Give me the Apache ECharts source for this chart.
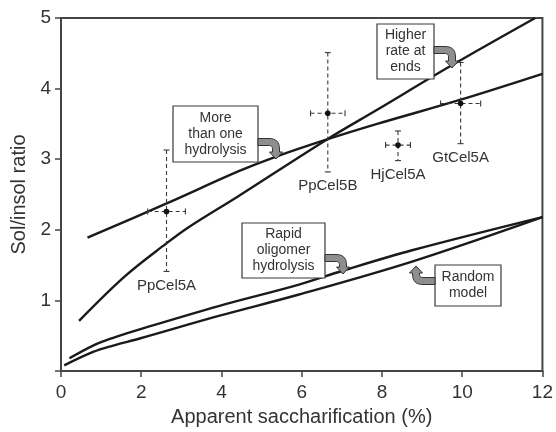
<!DOCTYPE html>
<html>
<head>
<meta charset="utf-8">
<script src="https://cdn.jsdelivr.net/npm/echarts@6/dist/echarts.min.js"></script>
<style>
html,body{margin:0;padding:0;background:#fff;}
#chart{width:556px;height:432px;}
</style>
</head>
<body>
<div id="chart"></div>
<script>
// ---- Data ----
const xTicks = [0, 2, 4, 6, 8, 10, 12];
const yTicks = [0, 1, 2, 3, 4, 5];

// "More than one hydrolysis" model curve
const moreX = [0.66, 2.62, 4.43, 5.33, 6.63, 7.88, 9.94, 12];
const moreY = [1.89, 2.37, 2.83, 3.03, 3.28, 3.50, 3.84, 4.21];
// "Higher rate at ends" model curve
const endsX = [0.45, 1.59, 2.61, 3.19, 4.43, 6.63, 7.88, 9.74, 11.82];
const endsY = [0.71, 1.34, 1.80, 2.04, 2.48, 3.28, 3.70, 4.33, 5.00];
// "Rapid oligomer hydrolysis" model curve
const rapidX = [0.21, 0.80, 1.30, 1.96, 3.93, 5.91, 7.02, 8.75, 12];
const rapidY = [0.18, 0.36, 0.47, 0.59, 0.92, 1.22, 1.42, 1.71, 2.18];
// "Random model" curve
const randomX = [0.08, 0.80, 1.30, 1.96, 3.93, 5.91, 8.75, 12];
const randomY = [0.08, 0.27, 0.36, 0.46, 0.78, 1.08, 1.55, 2.18];

// Enzyme measurements with error bars
const pointNames = ['PpCel5A', 'PpCel5B', 'HjCel5A', 'GtCel5A'];
const pointX = [2.63, 6.65, 8.40, 9.96];
const pointY = [2.26, 3.65, 3.20, 3.79];
const pointXErr = [0.47, 0.43, 0.31, 0.50];
const pointYErrUp = [0.87, 0.86, 0.20, 0.58];
const pointYErrDown = [0.85, 0.83, 0.22, 0.57];

// ---- Chart ----
const FONT = "'Liberation Sans', Arial, Helvetica, sans-serif";
const zip = (xs, ys) => xs.map((x, i) => [x, ys[i]]);
const pointData = pointX.map((x, i) => [x, pointY[i], pointXErr[i], pointYErrUp[i], pointYErrDown[i], pointNames[i]]);

function curve(name, xs, ys) {
  return {
    type: 'line', name: name, data: zip(xs, ys), showSymbol: false,
    smooth: 0.35,
    lineStyle: { color: '#1a1a1a', width: 2.4 }, z: 3, silent: true, clip: false
  };
}

function quad(p0, p1, p2, n) {
  const out = [];
  for (let i = 1; i <= n; i++) {
    const t = i / n, u = 1 - t;
    out.push([u * u * p0[0] + 2 * u * t * p1[0] + t * t * p2[0],
              u * u * p0[1] + 2 * u * t * p1[1] + t * t * p2[1]]);
  }
  return out;
}
function hookPoints(L, D) {
  const w = 3.5, r = 7, hw = 6.5, hl = 7;
  let pts = [[0, -w], [L - r, -w]];
  pts = pts.concat(quad([L - r, -w], [L + w, -w], [L + w, r], 8));
  pts.push([L + w, D - hl], [L + hw, D - hl], [L, D], [L - hw, D - hl], [L - w, D - hl], [L - w, r]);
  pts = pts.concat(quad([L - w, r], [L - w, w], [L - r, w], 8));
  pts.push([0, w]);
  return pts;
}
function arrow(x, y, L, D, flip) {
  const s = flip ? -1 : 1;
  const pts = hookPoints(L, D).map(p => [x + s * p[0], y + s * p[1]]);
  return {
    type: 'polygon', z: 101,
    shape: { points: pts },
    style: { fill: '#8e8e8e', stroke: '#333', lineWidth: 1 }
  };
}
function box(x, y, w, h, text) {
  return [
    { type: 'rect', z: 100, shape: { x: x, y: y, width: w, height: h },
      style: { fill: '#fff', stroke: '#3a3a3a', lineWidth: 1.2 } },
    { type: 'text', z: 102, x: x + w / 2, y: y + h / 2,
      style: { text: text, fontSize: 14, fontFamily: FONT, fill: '#333', lineHeight: 16,
               textAlign: 'center', textVerticalAlign: 'middle', align: 'center', verticalAlign: 'middle' } }
  ];
}

const chart = echarts.init(document.getElementById('chart'), null, { renderer: 'canvas' });
const option = {
  animation: false,
  backgroundColor: '#fff',
  grid: { left: 61, right: 8, top: 18, bottom: 57, show: true, borderColor: '#444', borderWidth: 2, backgroundColor: 'transparent' },
  xAxis: {
    type: 'value', min: xTicks[0], max: xTicks[xTicks.length - 1], interval: 2,
    name: 'Apparent saccharification (%)', nameLocation: 'middle', nameGap: 36,
    nameTextStyle: { fontSize: 20, fontFamily: FONT, color: '#333' },
    axisLine: { show: true, lineStyle: { color: '#444', width: 2 } },
    axisTick: { show: true, inside: false, length: 6, lineStyle: { color: '#444', width: 1.5 } },
    axisLabel: { fontSize: 19, fontFamily: FONT, color: '#333', margin: 12,
      formatter: v => xTicks.indexOf(v) >= 0 ? String(v) : '' },
    splitLine: { show: false }
  },
  yAxis: {
    type: 'value', min: yTicks[0], max: yTicks[yTicks.length - 1], interval: 1,
    name: 'Sol/insol ratio', nameLocation: 'middle', nameGap: 30,
    nameTextStyle: { fontSize: 20, fontFamily: FONT, color: '#333' },
    axisLine: { show: true, lineStyle: { color: '#444', width: 2 } },
    axisTick: { show: true, inside: false, length: 6, lineStyle: { color: '#444', width: 1.5 } },
    axisLabel: { fontSize: 19, fontFamily: FONT, color: '#333', margin: 10,
      formatter: v => (v === 0 ? '' : String(v)) },
    splitLine: { show: false }
  },
  series: [
    curve('More than one hydrolysis', moreX, moreY),
    curve('Higher rate at ends', endsX, endsY),
    curve('Rapid oligomer hydrolysis', rapidX, rapidY),
    curve('Random model', randomX, randomY),
    {
      type: 'custom', name: 'Enzymes', data: pointData, z: 4, silent: true,
      renderItem: function (params, api) {
        const x = api.value(0), y = api.value(1), xe = api.value(2), yu = api.value(3), yd = api.value(4);
        const name = pointData[params.dataIndex][5];
        const c = api.coord([x, y]);
        const t = api.coord([x, y + yu]);
        const b = api.coord([x, y - yd]);
        const l = api.coord([x - xe, y]);
        const r = api.coord([x + xe, y]);
        const dash = { stroke: '#3a3a3a', lineWidth: 1.1, lineDash: [4, 3] };
        const solid = { stroke: '#3a3a3a', lineWidth: 1.1 };
        const cap = 3;
        return {
          type: 'group',
          children: [
            { type: 'line', shape: { x1: t[0], y1: t[1], x2: b[0], y2: b[1] }, style: dash },
            { type: 'line', shape: { x1: l[0], y1: l[1], x2: r[0], y2: r[1] }, style: dash },
            { type: 'line', shape: { x1: t[0] - cap, y1: t[1], x2: t[0] + cap, y2: t[1] }, style: solid },
            { type: 'line', shape: { x1: b[0] - cap, y1: b[1], x2: b[0] + cap, y2: b[1] }, style: solid },
            { type: 'line', shape: { x1: l[0], y1: l[1] - cap, x2: l[0], y2: l[1] + cap }, style: solid },
            { type: 'line', shape: { x1: r[0], y1: r[1] - cap, x2: r[0], y2: r[1] + cap }, style: solid },
            { type: 'circle', shape: { cx: c[0], cy: c[1], r: 2.8 }, style: { fill: '#111' } },
            { type: 'text', x: b[0], y: b[1] + 14,
              style: { text: name, fontSize: 15, fontFamily: FONT, fill: '#333',
                       align: 'center', verticalAlign: 'middle', textAlign: 'center', textVerticalAlign: 'middle' } }
          ]
        };
      }
    }
  ],
  graphic: [].concat(
    box(173, 106, 85, 56, 'More\nthan one\nhydrolysis'),
    [arrow(258, 142, 18, 17, false)],
    box(377, 24, 57, 55, 'Higher\nrate at\nends'),
    [arrow(434, 50, 18, 18, false)],
    box(242, 223, 83, 55, 'Rapid\noligomer\nhydrolysis'),
    [arrow(325, 258, 18, 16, false)],
    box(435, 265, 66, 41, 'Random\nmodel'),
    [arrow(435, 281, 19, 15, true)]
  )
};
chart.setOption(option);
</script>
</body>
</html>
